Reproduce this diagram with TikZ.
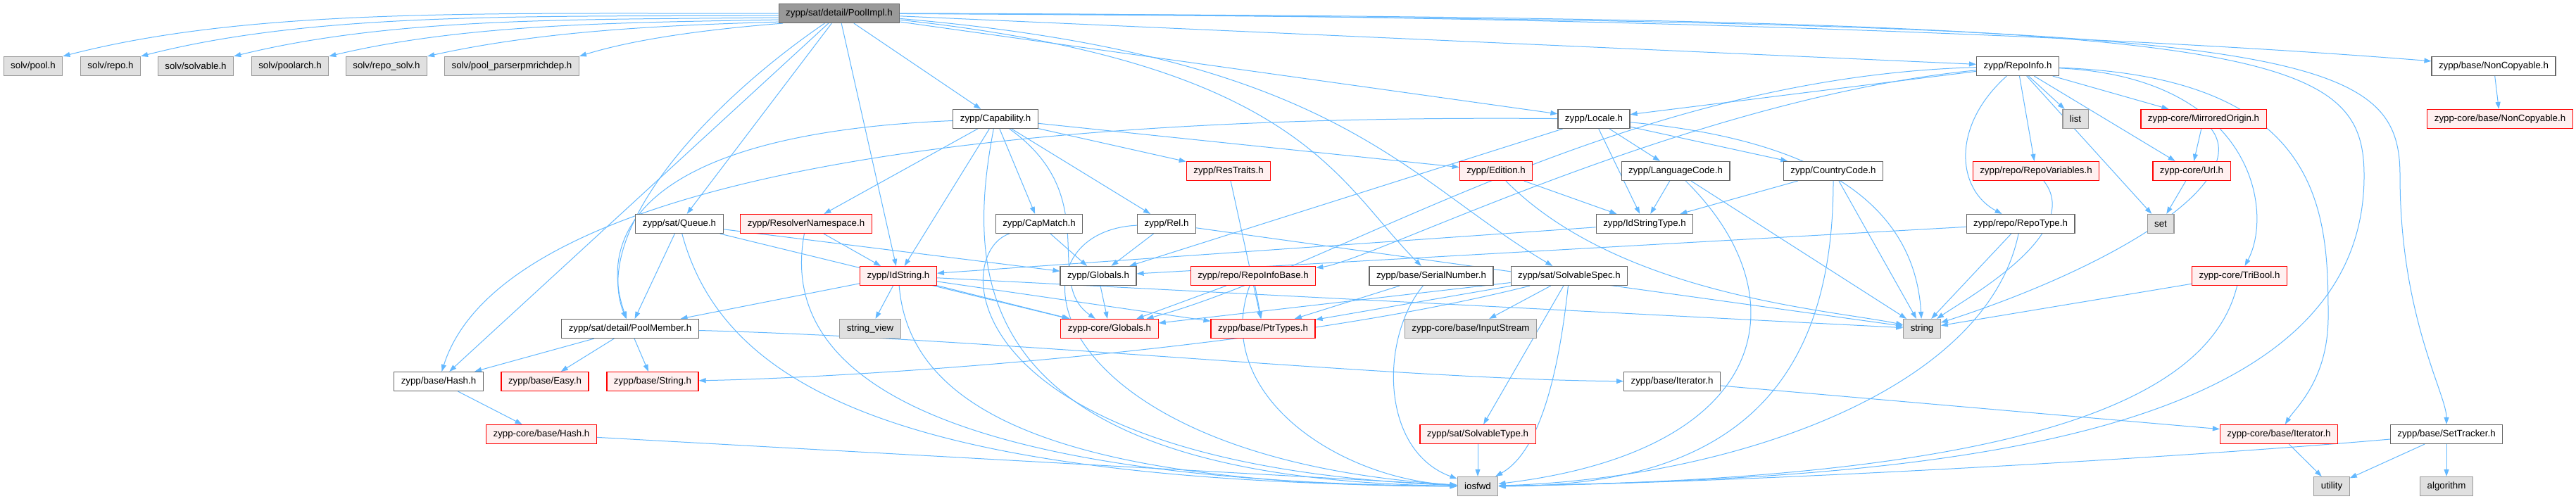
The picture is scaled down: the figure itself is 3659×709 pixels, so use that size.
\documentclass[tikz,border=0pt]{standalone}
\usepackage{fontspec}
\setmainfont{Liberation Sans}
\usepackage{xcolor}
\usetikzlibrary{arrows.meta,backgrounds}

\definecolor{depblue}{HTML}{63B8FF}
\definecolor{rootfill}{HTML}{999999}
\definecolor{boxline}{HTML}{666666}
\definecolor{sysfill}{HTML}{E0E0E0}
\definecolor{sysline}{HTML}{999999}
\definecolor{cutfill}{HTML}{FFF0F0}

\tikzset{
  hdr/.style={draw=boxline, fill=white, line width=1.2pt, minimum height=27pt,
    inner xsep=10pt, inner ysep=0pt, font=\fontsize{13.3}{16}\selectfont},
  roothdr/.style={hdr, fill=rootfill},
  syshdr/.style={hdr, fill=sysfill, draw=sysline},
  cuthdr/.style={hdr, fill=cutfill, draw=red},
  dep/.style={draw=depblue, line width=1pt, -{Triangle[length=10pt,width=7pt]}}
}

\begin{document}
\begin{tikzpicture}[x=1pt,y=1pt]

        \useasboundingbox (0,0) rectangle (3659,-709);

        \node[roothdr] (root) at (1192,-19) {zypp/sat/detail/PoolImpl.h};

        \node[syshdr] (solvpool) at (47,-94) {solv/pool.h};
        \node[syshdr] (solvrepo) at (157,-94) {solv/repo.h};
        \node[syshdr] (solvsolvable) at (278,-94) {solv/solvable.h};
        \node[syshdr] (solvpoolarch) at (412,-94) {solv/poolarch.h};
        \node[syshdr] (solvreposolv) at (549,-94) {solv/repo\_solv.h};
        \node[syshdr] (solvrichdep) at (727,-94) {solv/pool\_parserpmrichdep.h};
        \node[hdr] (repoinfo) at (2866,-94) {zypp/RepoInfo.h};
        \node[hdr] (noncopy) at (3542,-94) {zypp/base/NonCopyable.h};

        \node[hdr] (capability) at (1414,-169) {zypp/Capability.h};
        \node[hdr] (locale) at (2264,-169) {zypp/Locale.h};
        \node[syshdr] (list) at (2948,-169) {list};
        \node[cuthdr] (mirrored) at (3130,-169) {zypp-core/MirroredOrigin.h};
        \node[cuthdr] (corenoncopy) at (3551,-169) {zypp-core/base/NonCopyable.h};

        \node[cuthdr] (restraits) at (1745,-243) {zypp/ResTraits.h};
        \node[cuthdr] (edition) at (2125,-243) {zypp/Edition.h};
        \node[hdr] (langcode) at (2380,-243) {zypp/LanguageCode.h};
        \node[hdr] (countrycode) at (2604,-243) {zypp/CountryCode.h};
        \node[cuthdr] (repovars) at (2892,-243) {zypp/repo/RepoVariables.h};
        \node[cuthdr] (url) at (3113,-243) {zypp-core/Url.h};

        \node[hdr] (queue) at (965,-318) {zypp/sat/Queue.h};
        \node[cuthdr] (resolverns) at (1145,-318) {zypp/ResolverNamespace.h};
        \node[hdr] (capmatch) at (1476,-318) {zypp/CapMatch.h};
        \node[hdr] (rel) at (1657,-318) {zypp/Rel.h};
        \node[hdr] (idstringtype) at (2336,-318) {zypp/IdStringType.h};
        \node[hdr] (repotype) at (2870,-318) {zypp/repo/RepoType.h};
        \node[syshdr] (set) at (3069,-318) {set};

        \node[cuthdr] (idstring) at (1276,-392) {zypp/IdString.h};
        \node[hdr] (globals) at (1560,-392) {zypp/Globals.h};
        \node[cuthdr] (repoinfobase) at (1780,-392) {zypp/repo/RepoInfoBase.h};
        \node[hdr] (serial) at (2033,-392) {zypp/base/SerialNumber.h};
        \node[hdr] (solvspec) at (2229,-392) {zypp/sat/SolvableSpec.h};
        \node[cuthdr] (tribool) at (3181,-392) {zypp-core/TriBool.h};

        \node[hdr] (poolmember) at (895,-467) {zypp/sat/detail/PoolMember.h};
        \node[syshdr] (stringview) at (1236,-467) {string\_view};
        \node[cuthdr] (coreglobals) at (1576,-467) {zypp-core/Globals.h};
        \node[cuthdr] (ptrtypes) at (1794,-467) {zypp/base/PtrTypes.h};
        \node[syshdr] (inputstream) at (2089,-467) {zypp-core/base/InputStream};
        \node[syshdr] (string) at (2730,-467) {string};

        \node[hdr] (hash) at (623,-542) {zypp/base/Hash.h};
        \node[cuthdr] (easy) at (774,-542) {zypp/base/Easy.h};
        \node[cuthdr] (strh) at (927,-542) {zypp/base/String.h};
        \node[hdr] (iterator) at (2375,-542) {zypp/base/Iterator.h};

        \node[cuthdr] (corehash) at (769,-617) {zypp-core/base/Hash.h};
        \node[cuthdr] (solvtype) at (2099,-617) {zypp/sat/SolvableType.h};
        \node[cuthdr] (coreiterator) at (3237,-617) {zypp-core/base/Iterator.h};
        \node[hdr] (settracker) at (3475,-617) {zypp/base/SetTracker.h};

        \node[syshdr] (iosfwd) at (2099,-691) {iosfwd};
        \node[syshdr] (utility) at (3312,-691) {utility};
        \node[syshdr] (algorithm) at (3475,-691) {algorithm};

        \begin{pgfonlayer}{background}
        \draw[dep] (root.180) .. controls (700,-20) and (360,-10) .. (solvpool.north east);
        \draw[dep] (root.182) .. controls (760,-24) and (450,-16) .. (solvrepo.north east);
        \draw[dep] (root.184) .. controls (820,-28) and (560,-24) .. (solvsolvable.north east);
        \draw[dep] (root.186) .. controls (880,-32) and (660,-34) .. (solvpoolarch.north east);
        \draw[dep] (root.188) .. controls (940,-36) and (770,-44) .. (solvreposolv.north east);
        \draw[dep] (root.190) .. controls (1000,-42) and (900,-56) .. (solvrichdep.north east);
        \draw[dep] (root) -- (capability);
        \draw[dep] (root) -- (queue);
        \draw[dep] (root) .. controls (1000,-150) and (840,-330) .. (poolmember);
        \draw[dep] (root) -- (hash);
        \draw[dep] (root) -- (idstring);
        \draw[dep] (root) -- (locale);
        \draw[dep] (root) -- (repoinfo);
        \draw[dep] (root) .. controls (2200,-20) and (3000,-50) .. (noncopy);
        \draw[dep] (root) .. controls (1850,-90) and (1900,-260) .. (serial);
        \draw[dep] (root) .. controls (1900,-80) and (1990,-250) .. (solvspec);
        \draw[dep] (root) .. controls (3250,-30) and (3409,-60) .. (3409,-250) .. controls (3409,-450) and (3475,-560) .. (settracker);
        \draw[dep] (root) .. controls (3200,-25) and (3358,-60) .. (3358,-250) .. controls (3358,-640) and (2700,-680) .. (iosfwd);

        \draw[dep] (capability) -- (restraits);
        \draw[dep] (capability) -- (edition);
        \draw[dep] (capability) -- (capmatch);
        \draw[dep] (capability) -- (rel);
        \draw[dep] (capability) -- (idstring);
        \draw[dep] (capability) -- (resolverns);
        \draw[dep] (capability) .. controls (900,-190) and (850,-340) .. (poolmember);
        \draw[dep] (capability) .. controls (1570,-280) and (1480,-400) .. (coreglobals);
        \draw[dep] (capability) .. controls (1370,-400) and (1380,-680) .. (iosfwd);

        \draw[dep] (queue) -- (poolmember);
        \draw[dep] (queue) -- (globals);
        \draw[dep] (queue) -- (coreglobals);
        \draw[dep] (queue) .. controls (1030,-560) and (1300,-685) .. (iosfwd);
        \draw[dep] (resolverns) -- (idstring);
        \draw[dep] (resolverns) .. controls (1100,-560) and (1400,-685) .. (iosfwd);
        \draw[dep] (capmatch) -- (globals);
        \draw[dep] (capmatch) .. controls (1350,-360) and (1350,-660) .. (iosfwd);
        \draw[dep] (rel) -- (globals);
        \draw[dep] (rel) -- (string);
        \draw[dep] (rel) .. controls (1420,-330) and (1470,-650) .. (iosfwd);
        \draw[dep] (restraits) -- (ptrtypes);
        \draw[dep] (edition) -- (idstringtype);
        \draw[dep] (edition) .. controls (2300,-420) and (2600,-440) .. (string);

        \draw[dep] (locale) -- (langcode);
        \draw[dep] (locale) -- (countrycode);
        \draw[dep] (locale) -- (idstringtype);
        \draw[dep] (locale) -- (globals);
        \draw[dep] (locale) .. controls (2600,-200) and (2720,-300) .. (string);
        \draw[dep] (locale) .. controls (1200,-160) and (700,-300) .. (hash);
        \draw[dep] (langcode) -- (idstringtype);
        \draw[dep] (langcode) -- (string);
        \draw[dep] (langcode) .. controls (2560,-420) and (2520,-640) .. (iosfwd);
        \draw[dep] (countrycode) -- (idstringtype);
        \draw[dep] (countrycode) -- (string);
        \draw[dep] (countrycode) .. controls (2604,-560) and (2450,-690) .. (iosfwd);
        \draw[dep] (idstringtype) -- (idstring);

        \draw[dep] (repoinfo) -- (locale);
        \draw[dep] (repoinfo) -- (list);
        \draw[dep] (repoinfo) -- (mirrored);
        \draw[dep] (repoinfo) -- (url);
        \draw[dep] (repoinfo) -- (set);
        \draw[dep] (repoinfo) -- (repovars);
        \draw[dep] (repoinfo) .. controls (2770,-180) and (2780,-270) .. (repotype);
        \draw[dep] (repoinfo) .. controls (3200,-110) and (3230,-300) .. (tribool);
        \draw[dep] (repoinfo) .. controls (3300,-110) and (3307,-300) .. (3307,-450) .. controls (3307,-540) and (3260,-580) .. (coreiterator);
        \draw[dep] (repoinfo) .. controls (2400,-140) and (1950,-370) .. (repoinfobase);
        \draw[dep] (repoinfo) .. controls (2300,-110) and (1900,-380) .. (coreglobals);
        \draw[dep] (repotype) -- (globals);
        \draw[dep] (repotype) -- (string);
        \draw[dep] (repotype) .. controls (2820,-560) and (2450,-680) .. (iosfwd);
        \draw[dep] (repovars) .. controls (2960,-330) and (2800,-420) .. (string);
        \draw[dep] (mirrored) -- (url);
        \draw[dep] (mirrored) .. controls (3200,-260) and (3000,-380) .. (string);
        \draw[dep] (url) -- (set);
        \draw[dep] (noncopy) -- (corenoncopy);
        \draw[dep] (tribool) -- (string);
        \draw[dep] (tribool) .. controls (3140,-560) and (2900,-680) .. (iosfwd);

        \draw[dep] (idstring) -- (poolmember);
        \draw[dep] (idstring) -- (stringview);
        \draw[dep] (idstring) -- (coreglobals);
        \draw[dep] (idstring) -- (ptrtypes);
        \draw[dep] (idstring) -- (string);
        \draw[dep] (idstring) .. controls (1290,-560) and (1450,-690) .. (iosfwd);
        \draw[dep] (globals) -- (coreglobals);
        \draw[dep] (repoinfobase) -- (ptrtypes);
        \draw[dep] (repoinfobase) -- (coreglobals);
        \draw[dep] (repoinfobase) .. controls (1720,-560) and (1900,-680) .. (iosfwd);
        \draw[dep] (serial) -- (ptrtypes);
        \draw[dep] (serial) .. controls (1960,-480) and (1960,-640) .. (iosfwd);
        \draw[dep] (solvspec) -- (ptrtypes);
        \draw[dep] (solvspec) -- (coreglobals);
        \draw[dep] (solvspec) -- (inputstream);
        \draw[dep] (solvspec) -- (solvtype);
        \draw[dep] (solvspec) .. controls (2215,-520) and (2190,-640) .. (iosfwd);
        \draw[dep] (solvspec) .. controls (1800,-500) and (1200,-537) .. (strh);
        \draw[dep] (solvtype) -- (iosfwd);

        \draw[dep] (poolmember) -- (hash);
        \draw[dep] (poolmember) -- (easy);
        \draw[dep] (poolmember) -- (strh);
        \draw[dep] (poolmember) .. controls (1400,-480) and (2000,-540) .. (iterator);
        \draw[dep] (hash) -- (corehash);
        \draw[dep] (corehash) -- (iosfwd);
        \draw[dep] (iterator) -- (coreiterator);
        \draw[dep] (coreiterator) -- (utility);
        \draw[dep] (settracker) -- (utility);
        \draw[dep] (settracker) -- (algorithm);
        \draw[dep] (settracker) .. controls (3100,-650) and (2500,-685) .. (iosfwd);
        \end{pgfonlayer}

    \end{tikzpicture}
\end{document}
